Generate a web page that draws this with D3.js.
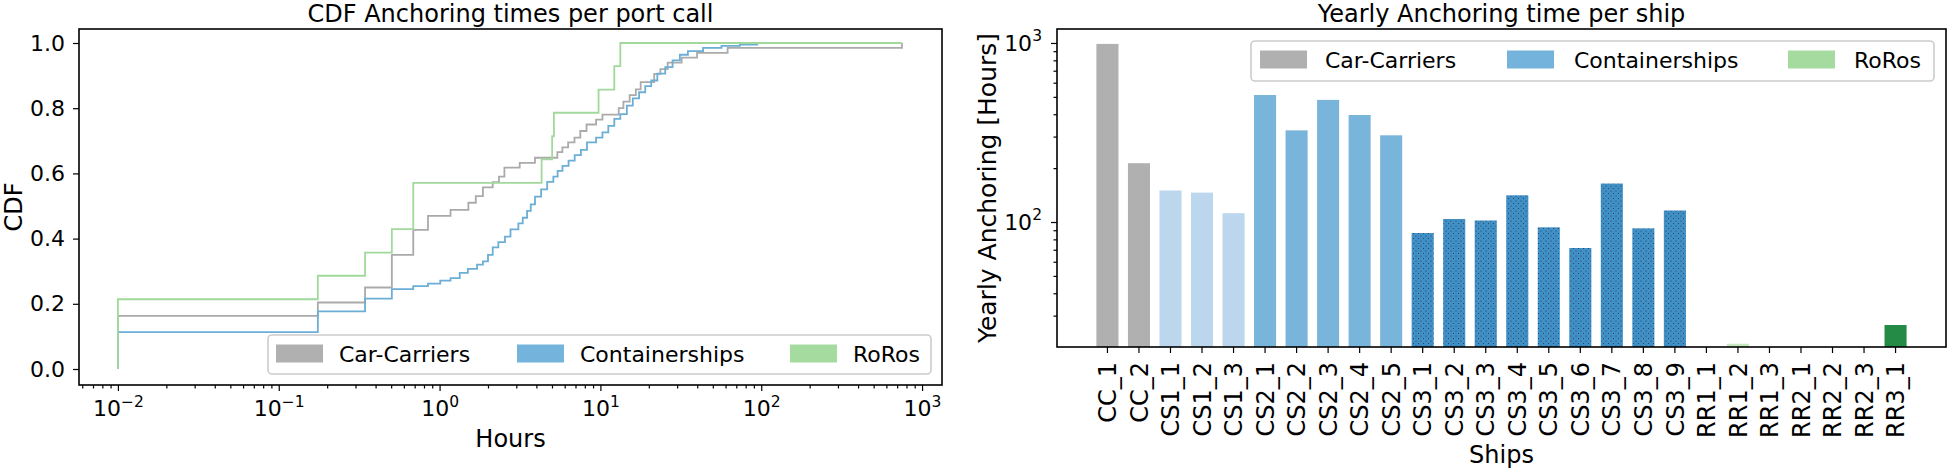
<!DOCTYPE html>
<html>
<head>
<meta charset="utf-8">
<script src="https://cdn.jsdelivr.net/npm/d3@7"></script>
<style>
body { margin: 0; background: #fff; }
text { font-family: "DejaVu Sans", sans-serif; fill: #000; }
</style>
</head>
<body>
<svg id="chart" width="1947" height="469"></svg>
<script>
// CDF data (hours at each step, cdf after the step)
const carHours = [0.01, 0.175, 0.344, 0.505, 0.686, 0.847, 1.17, 1.51, 1.68, 1.86, 2.14, 2.34, 2.53, 3.15, 3.92, 5.4, 5.8, 6.3, 6.9, 7.5, 8.2, 9.4, 10.3, 13.0, 13.9, 15.2, 16.6, 17.8, 21.6, 23.6, 26.2, 32.0, 39.9, 61.8, 750];
const carCdf   = [0.163, 0.204, 0.25, 0.35, 0.427, 0.47, 0.488, 0.51, 0.53, 0.557, 0.573, 0.59, 0.618, 0.632, 0.648, 0.665, 0.68, 0.695, 0.71, 0.73, 0.75, 0.765, 0.78, 0.8, 0.82, 0.84, 0.858, 0.88, 0.905, 0.92, 0.94, 0.955, 0.97, 0.985, 1.0];

const contHours = [0.01, 0.175, 0.344, 0.505, 0.686, 0.847, 1.01, 1.17, 1.335, 1.50, 1.71, 1.86, 2.00, 2.14, 2.32, 2.55, 2.76, 3.09, 3.29, 3.50, 3.69, 3.92, 4.28, 4.67, 5.10, 5.42, 5.81, 6.34, 6.92, 7.56, 8.25, 9.40, 10.3, 11.2, 12.2, 13.3, 14.6, 15.9, 17.4, 19.0, 20.7, 22.6, 25.3, 28.1, 31.2, 35.0, 43.5, 56.6, 73.6, 95.7];
const contCdf   = [0.113, 0.177, 0.216, 0.245, 0.254, 0.262, 0.271, 0.279, 0.295, 0.307, 0.32, 0.33, 0.35, 0.373, 0.389, 0.406, 0.428, 0.447, 0.464, 0.485, 0.505, 0.529, 0.551, 0.574, 0.59, 0.608, 0.623, 0.639, 0.656, 0.672, 0.695, 0.71, 0.726, 0.746, 0.767, 0.782, 0.808, 0.83, 0.849, 0.868, 0.885, 0.906, 0.926, 0.947, 0.964, 0.975, 0.985, 0.991, 0.995, 0.995];

const roroHours = [0.01, 0.175, 0.344, 0.505, 0.686, 4.31, 5.01, 5.14, 9.74, 12.2, 13.3, 750];
const roroCdf   = [0.214, 0.286, 0.357, 0.429, 0.571, 0.643, 0.714, 0.786, 0.857, 0.929, 1.0, 1.0];

// bar data
const ships = ["CC_1", "CC_2", "CS1_1", "CS1_2", "CS1_3", "CS2_1", "CS2_2", "CS2_3", "CS2_4", "CS2_5",
  "CS3_1", "CS3_2", "CS3_3", "CS3_4", "CS3_5", "CS3_6", "CS3_7", "CS3_8", "CS3_9",
  "RR1_1", "RR1_2", "RR1_3", "RR2_1", "RR2_2", "RR2_3", "RR3_1"];
const yearlyHours = [988, 213, 150, 146, 112, 512, 325, 481, 396, 305,
  86.8, 104, 102, 141, 93.4, 71.6, 164, 92.2, 116,
  0, 20.9, 0, 0, 0, 0, 26.6];

const legendLabels = ["Car-Carriers", "Containerships", "RoRos"];
const cdfTicks = [0, 0.2, 0.4, 0.6, 0.8, 1.0];
const hourTicks = [1e-2, 1e-1, 1e0, 1e1, 1e2, 1e3];
const yearTicks = [1e2, 1e3];

const legendColors = ["#b0b0b0", "#74b3dc", "#a6dba0"];
const lineColors = ["#aaaaaa", "#6baed6", "#a1d99b"];

const svg = d3.select("#chart");

// 图案
const defs = svg.append("defs");
const dots = defs.append("pattern").attr("id", "dots")
  .attr("width", 5).attr("height", 5).attr("patternUnits", "userSpaceOnUse");
dots.append("rect").attr("width", 5).attr("height", 5).attr("fill", "#4090c8");
dots.append("circle").attr("cx", 1).attr("cy", 1).attr("r", 0.55).attr("fill", "#2a3a48");
dots.append("circle").attr("cx", 3.5).attr("cy", 3.5).attr("r", 0.55).attr("fill", "#2a3a48");

function barColor(name) {
  if (name.startsWith("CC")) return "#b0b0b0";
  if (name.startsWith("CS1")) return "#bcd7ed";
  if (name.startsWith("CS2")) return "#79b5db";
  if (name.startsWith("CS3")) return "url(#dots)";
  if (name.startsWith("RR3")) return "#238b45";
  return "#c7e9c0";
}

function superscript(sel, v) {
  sel.each(function () {
    const t = d3.select(this);
    const e = Math.round(Math.log10(v(t.datum())));
    t.text(null);
    t.append("tspan").text("10");
    t.append("tspan").attr("dy", "-0.6em").attr("font-size", "15.5px")
      .text(String(e).replace("-", "\u2212"));
  });
}

function minorTicks(lo, hi) {
  const out = [];
  for (let e = -4; e <= 4; e++) {
    for (let m = 2; m <= 9; m++) {
      const v = m * Math.pow(10, e);
      if (v > lo && v < hi) out.push(v);
    }
  }
  return out;
}

// ---------- 左图: CDF ----------
const L = { left: 79, right: 942, top: 29, bottom: 385 };
const xL = d3.scaleLog().domain([Math.pow(10, -2.242), Math.pow(10, 3.124)]).range([L.left, L.right]);
const yL = d3.scaleLinear().domain([0, 1]).range([369, 43]);

const gL = svg.append("g");

const series = [
  { h: carHours, c: carCdf },
  { h: contHours, c: contCdf },
  { h: roroHours, c: roroCdf }
];
const line = d3.line().curve(d3.curveStepAfter)
  .x(function (d) { return xL(d[0]); })
  .y(function (d) { return yL(d[1]); });

series.forEach(function (s, i) {
  const pts = [[s.h[0], 0]].concat(s.h.map(function (h, j) { return [h, s.c[j]]; }));
  gL.append("path").datum(pts)
    .attr("d", line)
    .attr("fill", "none")
    .attr("stroke", lineColors[i])
    .attr("stroke-width", 1.8);
});

// x axis
const xAxisL = gL.append("g").attr("transform", "translate(0," + L.bottom + ")")
  .call(d3.axisBottom(xL).tickValues(hourTicks).tickSize(6).tickPadding(9.5));
xAxisL.selectAll(".tick text").call(superscript, function (d) { return d; });
gL.append("g").attr("transform", "translate(0," + L.bottom + ")")
  .call(d3.axisBottom(xL).tickValues(minorTicks(xL.domain()[0], xL.domain()[1])).tickSize(3.5).tickFormat(""));

// y axis
gL.append("g").attr("transform", "translate(" + L.left + ",0)")
  .call(d3.axisLeft(yL).tickValues(cdfTicks).tickSize(6).tickPadding(8).tickFormat(d3.format(".1f")));

gL.selectAll(".domain").remove();
gL.selectAll(".tick line").attr("stroke", "#000").attr("stroke-width", 1.2);
gL.selectAll(".tick text").attr("font-size", "22px");

gL.append("rect").attr("x", L.left).attr("y", L.top)
  .attr("width", L.right - L.left).attr("height", L.bottom - L.top)
  .attr("fill", "none").attr("stroke", "#000").attr("stroke-width", 1.6);

gL.append("text").attr("x", (L.left + L.right) / 2).attr("y", 22)
  .attr("text-anchor", "middle").attr("font-size", "24px").text("CDF Anchoring times per port call");
gL.append("text").attr("x", (L.left + L.right) / 2).attr("y", 447)
  .attr("text-anchor", "middle").attr("font-size", "24px").text("Hours");
gL.append("text").attr("transform", "translate(22," + (L.top + L.bottom) / 2 + ") rotate(-90)")
  .attr("text-anchor", "middle").attr("font-size", "24px").text("CDF");

// ---------- 右图: 柱形 ----------
const R = { left: 1057, right: 1946, top: 29, bottom: 347 };
const xR = d3.scaleBand().domain(ships).range([R.left, R.right]).paddingInner(0.3).paddingOuter(1.25);
const yR = d3.scaleLog().domain([Math.pow(10, 1.302), Math.pow(10, 3.078)]).range([R.bottom, R.top]);

const gR = svg.append("g");

gR.selectAll(".bar")
  .data(ships.map(function (s, i) { return { name: s, value: yearlyHours[i] }; })
    .filter(function (d) { return d.value > 0; }))
  .enter().append("rect")
  .attr("class", "bar")
  .attr("x", function (d) { return xR(d.name); })
  .attr("y", function (d) { return yR(d.value); })
  .attr("width", xR.bandwidth())
  .attr("height", function (d) { return R.bottom - yR(d.value); })
  .attr("fill", function (d) { return barColor(d.name); });

const xAxisR = gR.append("g").attr("transform", "translate(0," + R.bottom + ")")
  .call(d3.axisBottom(xR).tickSize(6));
xAxisR.selectAll(".tick text")
  .attr("transform", "rotate(-90)")
  .attr("x", -15).attr("y", 0).attr("dy", "0.36em")
  .style("text-anchor", "end");

const yAxisR = gR.append("g").attr("transform", "translate(" + R.left + ",0)")
  .call(d3.axisLeft(yR).tickValues(yearTicks).tickSize(6).tickPadding(9));
yAxisR.selectAll(".tick text").call(superscript, function (d) { return d; });
gR.append("g").attr("transform", "translate(" + R.left + ",0)")
  .call(d3.axisLeft(yR).tickValues(minorTicks(yR.domain()[0], yR.domain()[1])).tickSize(3.5).tickFormat(""));

gR.selectAll(".domain").remove();
gR.selectAll(".tick line").attr("stroke", "#000").attr("stroke-width", 1.2);
yAxisR.selectAll(".tick text").attr("font-size", "22px");
xAxisR.selectAll(".tick text").attr("font-size", "24px");

gR.append("rect").attr("x", R.left).attr("y", R.top)
  .attr("width", R.right - R.left).attr("height", R.bottom - R.top)
  .attr("fill", "none").attr("stroke", "#000").attr("stroke-width", 1.6);

gR.append("text").attr("x", (R.left + R.right) / 2).attr("y", 22)
  .attr("text-anchor", "middle").attr("font-size", "24px").text("Yearly Anchoring time per ship");
gR.append("text").attr("x", (R.left + R.right) / 2).attr("y", 463)
  .attr("text-anchor", "middle").attr("font-size", "24px").text("Ships");
gR.append("text").attr("transform", "translate(996," + (R.top + R.bottom) / 2 + ") rotate(-90)")
  .attr("text-anchor", "middle").attr("font-size", "25px").text("Yearly Anchoring [Hours]");

// ---------- 图例 ----------
function legend(x, y, w, h, patchX, textX) {
  const g = svg.append("g");
  g.append("rect").attr("x", x).attr("y", y).attr("width", w).attr("height", h)
    .attr("rx", 4).attr("fill", "#fff").attr("fill-opacity", 0.8)
    .attr("stroke", "#cccccc").attr("stroke-width", 1.6);
  legendLabels.forEach(function (lab, i) {
    g.append("rect").attr("x", patchX[i]).attr("y", y + 9.5).attr("width", 47).attr("height", 18)
      .attr("fill", legendColors[i]);
    g.append("text").attr("x", textX[i]).attr("y", y + 26.5).attr("font-size", "22px").text(lab);
  });
}
legend(268, 335, 663, 39, [276, 517, 790], [339, 580, 853]);
legend(1251, 41, 683, 40, [1260, 1507, 1788], [1325, 1574, 1854]);
</script>
</body>
</html>
